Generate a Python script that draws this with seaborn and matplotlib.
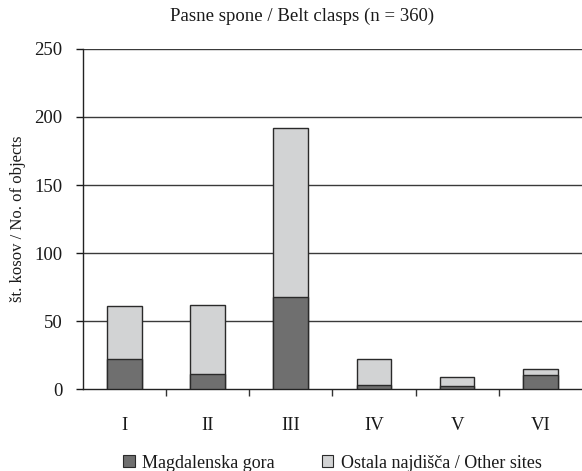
import matplotlib
matplotlib.use("Agg")
import matplotlib.pyplot as plt
import seaborn as sns
import pandas as pd
from matplotlib.patches import Patch

# Belt clasp types and counts per group
types = ["I", "II", "III", "IV", "V", "VI"]
magdalenska = [22, 11, 68, 3, 2, 10]
other_sites = [39, 51, 124, 19, 7, 5]
totals = [m + o for m, o in zip(magdalenska, other_sites)]

df = pd.DataFrame({"type": types, "magdalenska": magdalenska, "total": totals})

sns.set_theme(style="white")
plt.rcParams["font.family"] = ["Liberation Serif", "DejaVu Serif"]

dark = "#6f6f6f"
light = "#d2d3d4"
edge = "#2a2a2a"
text_c = "#1a1a1a"

fig = plt.figure(figsize=(5.82, 4.71), dpi=100)
ax = fig.add_axes([0.1426, 0.174, 0.857, 0.722])

# stacked bars: full height in light grey, Magdalenska gora part on top in dark grey
sns.barplot(data=df, x="type", y="total", color=light, width=0.417,
            edgecolor=edge, linewidth=1.0, saturation=1, ax=ax, zorder=3)
sns.barplot(data=df, x="type", y="magdalenska", color=dark, width=0.417,
            edgecolor=edge, linewidth=1.0, saturation=1, ax=ax, zorder=4)

ax.set_ylim(0, 250)
ax.set_xlim(-0.5, len(types) - 0.5)
ax.set_yticks([0, 50, 100, 150, 200, 250])
for v in [50, 100, 150, 200, 250]:
    ax.axhline(v, color="#3a3a3a", lw=1.0, zorder=1)

# category ticks sit between the groups
ax.set_xticks(range(len(types)))
ax.set_xticklabels(types)
ax.set_xticks([i + 0.5 for i in range(len(types) - 1)], minor=True)
ax.tick_params(axis="x", which="major", length=0, pad=20, labelsize=13.5, colors=text_c)
ax.tick_params(axis="x", which="minor", length=5, width=1, direction="out", color="#333333", bottom=True)
ax.tick_params(axis="y", which="major", length=5, width=1, direction="out", pad=10,
               labelsize=13.5, colors=text_c, left=True)

for s in ["top", "right"]:
    ax.spines[s].set_visible(False)
for s in ["left", "bottom"]:
    ax.spines[s].set_color("#222222")
    ax.spines[s].set_linewidth(1.0)

ax.set_xlabel("")
ax.set_ylabel("št. kosov / No. of objects", fontsize=12, color=text_c, labelpad=6)
fig.text(0.519, 0.966, "Pasne spone / Belt clasps (n = 360)", fontsize=13.5,
         color=text_c, ha="center", va="center")

handles = [Patch(facecolor=dark, edgecolor=edge, lw=0.8),
           Patch(facecolor=light, edgecolor=edge, lw=0.8)]
ax.legend(handles, ["Magdalenska gora", "Ostala najdišča / Other sites"],
          loc="center", bbox_to_anchor=(0.5, -0.218), ncol=2, frameon=False,
          fontsize=13, handlelength=0.65, handleheight=0.65, handletextpad=0.4,
          columnspacing=2.6, labelcolor=text_c)

fig.savefig("out.png", dpi=100)
